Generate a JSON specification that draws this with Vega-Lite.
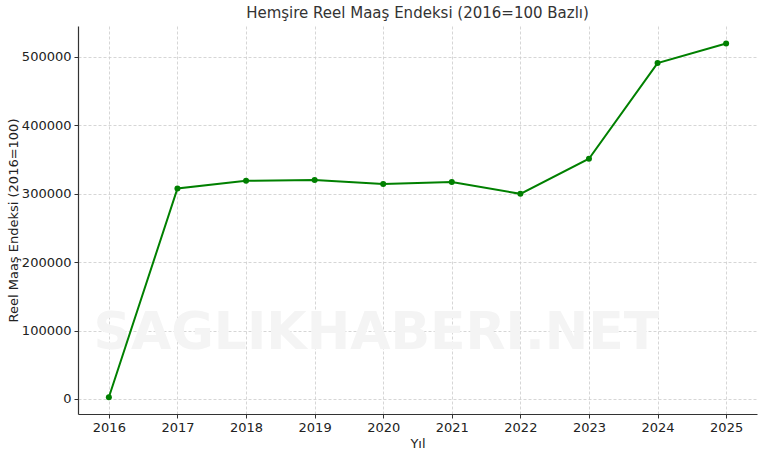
{
  "$schema": "https://vega.github.io/schema/vega-lite/v6.json",
  "autosize": "none",
  "width": 679,
  "height": 388,
  "padding": {"left": 78, "top": 26, "right": 7, "bottom": 42},
  "background": "white",
  "title": {"text": "Hemşire Reel Maaş Endeksi (2016=100 Bazlı)", "font": "DejaVu Sans", "fontSize": 15, "fontWeight": "normal", "color": "#333333", "anchor": "middle", "offset": 5},
  "config": {
    "view": {"stroke": null},
    "axis": {"labelFont": "DejaVu Sans", "titleFont": "DejaVu Sans", "labelFontSize": 13, "titleFontSize": 13, "titleFontWeight": "normal", "labelColor": "#222222", "titleColor": "#222222", "domainColor": "#333333", "domainWidth": 1.2, "tickColor": "#333333", "tickSize": 4, "gridColor": "#cccccc", "gridDash": [3, 2], "gridWidth": 0.8}
  },
  "layer": [
    {
      "data": {"values": [{"x": 2019.9, "y": 97000, "t": "SAGLIKHABERI.NET"}]},
      "mark": {"type": "text", "font": "DejaVu Sans", "fontSize": 52, "fontWeight": "bold", "color": "#f4f4f4", "baseline": "middle", "align": "center"},
      "encoding": {
        "x": {"field": "x", "type": "quantitative"},
        "y": {"field": "y", "type": "quantitative"},
        "text": {"field": "t"}
      }
    },
    {
      "data": {"values": [
        {"year": 2016, "value": 2500},
        {"year": 2017, "value": 307500},
        {"year": 2018, "value": 318700},
        {"year": 2019, "value": 320000},
        {"year": 2020, "value": 314000},
        {"year": 2021, "value": 317000},
        {"year": 2022, "value": 299700},
        {"year": 2023, "value": 351000},
        {"year": 2024, "value": 490800},
        {"year": 2025, "value": 519500}
      ]},
      "mark": {"type": "line", "color": "#008000", "strokeWidth": 2, "point": {"filled": true, "size": 36, "color": "#008000"}},
      "encoding": {
        "x": {"field": "year", "type": "quantitative", "title": "Yıl", "scale": {"domain": [2015.55, 2025.45], "nice": false, "zero": false}, "axis": {"values": [2016, 2017, 2018, 2019, 2020, 2021, 2022, 2023, 2024, 2025], "format": "d", "labelPadding": 3, "titlePadding": 3}},
        "y": {"field": "value", "type": "quantitative", "title": "Reel Maaş Endeksi (2016=100)", "scale": {"domain": [-22000, 545000], "nice": false, "zero": false}, "axis": {"values": [0, 100000, 200000, 300000, 400000, 500000], "format": "d", "labelPadding": 3, "titlePadding": 1}}
      }
    }
  ]
}
